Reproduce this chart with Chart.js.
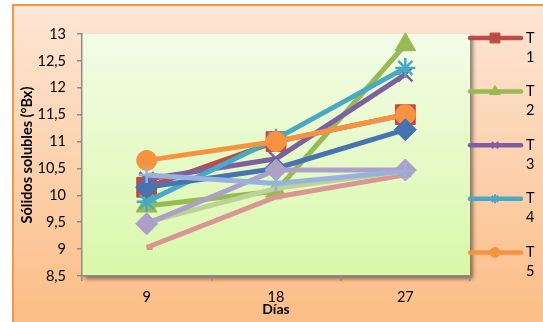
<!DOCTYPE html>
<html>
<head>
<meta charset="utf-8">
<script src="https://cdn.jsdelivr.net/npm/chart.js@4/dist/chart.umd.min.js"></script>
<style>
  html, body { margin: 0; padding: 0; background: #fff; }
  canvas { display: block; }
</style>
</head>
<body>
<canvas id="chart" width="543" height="322"></canvas>
<script>
// Sampling days and soluble solids (°Bx) per treatment
const categories = ['9', '18', '27'];
const seriesNames = ['T1', 'T2', 'T3', 'T4', 'T5', 'T6', 'T7', 'T8', 'T9', 'T10'];
const t1 = [10.15, 11.0, 11.5];
const t2 = [9.8, 10.08, 12.8];
const t3 = [10.3, 10.68, 12.25];
const t4 = [9.88, 11.05, 12.37];
const t5 = [10.65, 11.0, 11.5];
const t6 = [10.15, 10.5, 11.22];
const t7 = [9.03, 9.97, 10.38];
const t8 = [9.5, 10.13, 10.45];
const t9 = [9.47, 10.47, 10.47];
const t10 = [10.38, 10.22, 10.45];
const yTickLabels = ['8,5', '9', '9,5', '10', '10,5', '11', '11,5', '12', '12,5', '13'];
const legendCount = 5;

const seriesValues = [t1, t2, t3, t4, t5, t6, t7, t8, t9, t10];

// Line colour and marker for each treatment (r: chart marker, lr: legend marker)
const seriesStyle = [
  { color: '#BE4B48', point: 'rect',     r: 14, bw: 1,   lr: 7 },
  { color: '#98B954', point: 'triangle', r: 12, bw: 1,   lr: 6 },
  { color: '#7D60A0', point: 'crossRot', r: 10, bw: 2.5, lr: 4.5 },
  { color: '#46AAC5', point: 'star',     r: 10, bw: 2.5, lr: 4.5 },
  { color: '#F69240', point: 'circle',   r: 10, bw: 1,   lr: 5 },
  { color: '#4673B2', point: 'rectRot',  r: 11, bw: 1,   lr: 5 },
  { color: '#D99694', point: 'dash',     r: 6,  bw: 5,   lr: 4 },
  { color: '#BCD296', point: 'dash',     r: 5,  bw: 5,   lr: 4 },
  { color: '#ADA0C8', point: 'rectRot',  r: 11, bw: 1,   lr: 5 },
  { color: '#97B3DC', point: 'cross',    r: 8,  bw: 2.5, lr: 4 }
];

const datasets = seriesValues.map((vals, i) => {
  const s = seriesStyle[i];
  return {
    label: seriesNames[i],
    data: vals,
    borderColor: s.color,
    backgroundColor: s.color,
    borderWidth: 5,
    tension: 0,
    pointStyle: s.point,
    pointRadius: s.r,
    pointBackgroundColor: s.color,
    pointBorderColor: s.color,
    pointBorderWidth: s.bw,
    clip: false,
    order: seriesValues.length - i
  };
});

// Page background, orange frame and the shaded plot area
const backdrop = {
  id: 'backdrop',
  beforeDraw(chart) {
    const { ctx, chartArea: a, width, height } = chart;
    ctx.save();
    ctx.fillStyle = '#ffffff';
    ctx.fillRect(0, 0, width, height);
    const g = ctx.createLinearGradient(0, 5, 0, height);
    g.addColorStop(0, '#FDE6D5');
    g.addColorStop(1, '#FCBD86');
    ctx.fillStyle = g;
    ctx.fillRect(13, 5, width, height);
    ctx.strokeStyle = '#F79646';
    ctx.lineWidth = 2;
    ctx.strokeRect(13, 5, width + 10, height + 10);

    ctx.shadowColor = 'rgba(0,0,0,0.45)';
    ctx.shadowOffsetX = 3;
    ctx.shadowOffsetY = 3;
    ctx.shadowBlur = 4;
    const pg = ctx.createLinearGradient(0, a.top, 0, a.bottom);
    pg.addColorStop(0, '#F3FCE7');
    pg.addColorStop(1, '#D9F8A9');
    ctx.fillStyle = pg;
    ctx.fillRect(a.left, a.top, a.right - a.left, a.bottom - a.top);
    ctx.restore();
  }
};

// Legend on the right with the label wrapped under the "T"
const sideLegend = {
  id: 'sideLegend',
  afterDraw(chart) {
    const { ctx } = chart;
    ctx.save();
    for (let i = 0; i < legendCount; i++) {
      const s = seriesStyle[i];
      const y = 38 + i * 53.6;
      ctx.strokeStyle = s.color;
      ctx.lineWidth = 4.5;
      ctx.lineCap = 'round';
      ctx.beginPath();
      ctx.moveTo(470, y);
      ctx.lineTo(521, y);
      ctx.stroke();
      const bw = s.bw > 1 ? 2 : 1;
      ctx.fillStyle = s.color;
      ctx.strokeStyle = s.color;
      ctx.lineWidth = bw;
      ctx.lineCap = 'butt';
      Chart.helpers.drawPoint(ctx, {
        pointStyle: s.point, radius: s.lr, rotation: 0, borderWidth: bw
      }, 495, y);
      ctx.fillStyle = '#000';
      ctx.font = '14.5px Lato';
      ctx.textAlign = 'left';
      ctx.textBaseline = 'middle';
      const name = seriesNames[i];
      ctx.fillText(name.charAt(0), 526, y);
      ctx.fillText(name.slice(1), 526, y + 19);
    }
    ctx.restore();
  }
};

new Chart(document.getElementById('chart'), {
  type: 'line',
  data: { labels: categories, datasets },
  plugins: [backdrop, sideLegend],
  options: {
    responsive: false,
    devicePixelRatio: 1,
    animation: false,
    layout: { padding: { left: 13, top: 34, right: 73, bottom: 0 } },
    plugins: {
      legend: { display: false },
      tooltip: { enabled: false }
    },
    scales: {
      x: {
        offset: true,
        grid: {
          offset: true,
          drawOnChartArea: false,
          drawTicks: true,
          tickLength: 5,
          color: '#8C8C8C',
          lineWidth: 1.5
        },
        border: { display: true, color: '#8C8C8C', width: 1.5 },
        ticks: { color: '#000', font: { family: 'Lato', size: 14.5 }, padding: 8, maxRotation: 0 },
        title: {
          display: true, text: 'Días', color: '#000',
          font: { family: 'Lato', size: 14, weight: 'bold' },
          padding: { top: 0, bottom: 4 }
        },
        afterFit(scale) { scale.height = 46; }
      },
      y: {
        min: 8.5,
        max: 13,
        grid: {
          drawOnChartArea: false,
          drawTicks: true,
          tickLength: 5,
          color: '#8C8C8C',
          lineWidth: 1.5
        },
        border: { display: true, color: '#8C8C8C', width: 1.5 },
        ticks: {
          stepSize: 0.5,
          color: '#000',
          font: { family: 'Lato', size: 14.5 },
          padding: 11,
          callback: (v, i) => yTickLabels[i]
        },
        title: {
          display: true, text: 'Sólidos solubles (°Bx)', color: '#000',
          font: { family: 'Lato', size: 14.5, weight: 'bold' },
          padding: { top: 6, bottom: 0 }
        },
        afterFit(scale) { scale.width = 69; }
      }
    }
  }
});
</script>
</body>
</html>
